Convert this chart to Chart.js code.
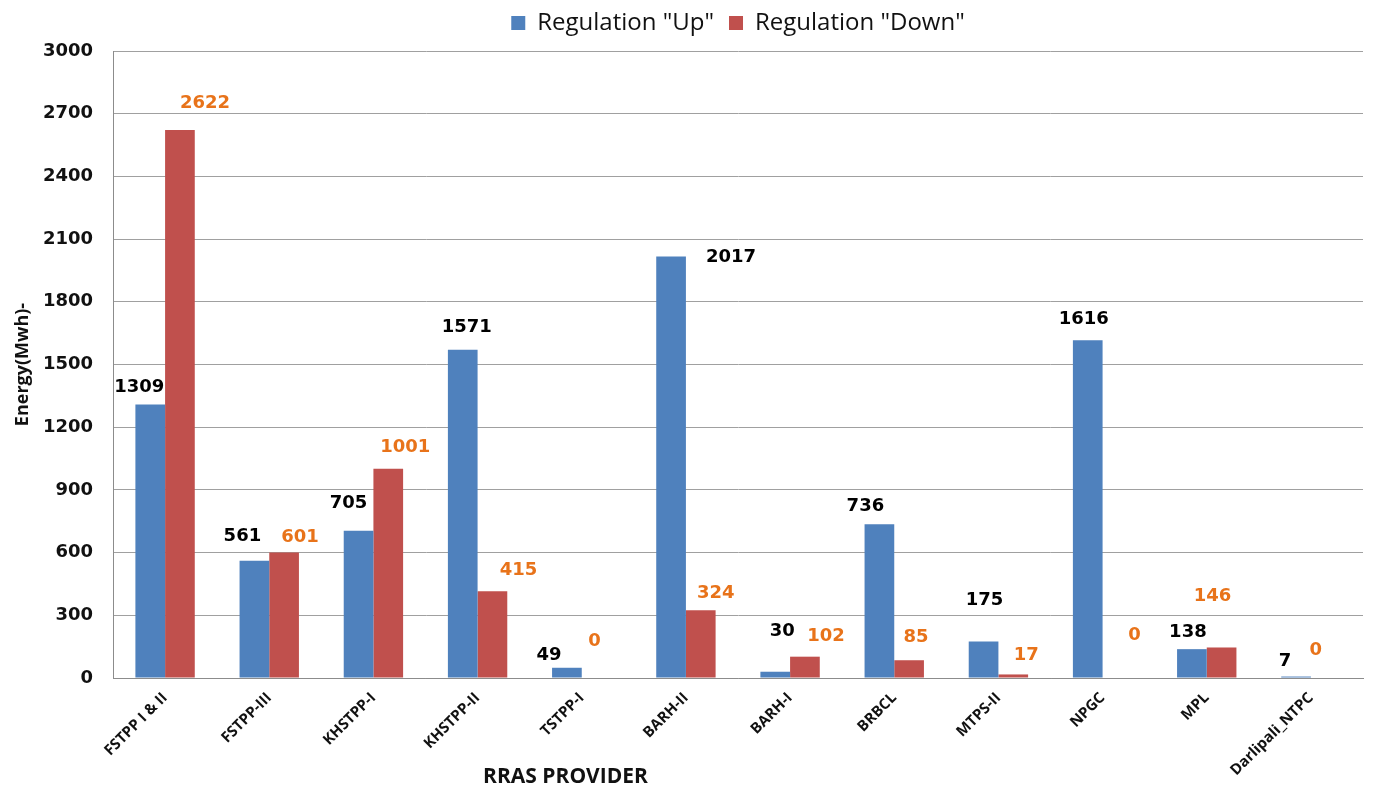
<!DOCTYPE html>
<html>
<head>
<meta charset="utf-8">
<script src="https://cdn.jsdelivr.net/npm/chart.js@4.4.0/dist/chart.umd.min.js"></script>
<style>
  html, body { margin: 0; padding: 0; background: #fff; }
  #wrap { width: 1373px; height: 794px; }
</style>
</head>
<body>
<div id="wrap"><canvas id="rras_chart"></canvas></div>
<script>
const providers = ['FSTPP I & II', 'FSTPP-III', 'KHSTPP-I', 'KHSTPP-II', 'TSTPP-I', 'BARH-II',
    'BARH-I', 'BRBCL', 'MTPS-II', 'NPGC', 'MPL', 'Darlipali_NTPC']
const regulation_up = [1309, 561, 705, 1571, 49, 2017, 30, 736, 175, 1616, 138, 7]
const regulation_down = [2622, 601, 1001, 415, 0, 324, 102, 85, 17, 0, 146, 0]
const y_ticks = [0, 300, 600, 900, 1200, 1500, 1800, 2100, 2400, 2700, 3000]

// label nudges (px) from the top of each bar, as placed in the original
const nudge_up = [[-11,-17],[-12,-24],[-10,-27],[4,-22],[-18,-12],[60,1],[7,-40],[-14,-18],[1,-41],[-4,-21],[-4,-17],[-11,-15]]
const nudge_down = [[25,-27],[16,-15],[17,-21],[26,-21],[-2,-37],[15,-17],[21,-20],[7,-23],[13,-19],[17,-43],[-9,-51],[-10,-28]]

const value_labels = {
    id: 'value_labels',
    afterDatasetsDraw(chart) {
        const ctx = chart.ctx
        ctx.save()
        ctx.font = 'bold 18px "DejaVu Sans"'
        ctx.textAlign = 'center'
        ctx.textBaseline = 'middle'
        chart.data.datasets.forEach((ds, di) => {
            const meta = chart.getDatasetMeta(di)
            const nudges = di === 0 ? nudge_up : nudge_down
            ctx.fillStyle = di === 0 ? '#000000' : '#E8731A'
            meta.data.forEach((bar, i) => {
                ctx.fillText(ds.data[i], bar.x + nudges[i][0], bar.y + nudges[i][1])
            })
        })
        ctx.restore()
    }
}

// legend sits centred over the plot area, a bit higher than chart.js puts it
const legend_shift = {
    id: 'legend_shift',
    afterLayout(chart) {
        const lg = chart.legend
        const area = chart.chartArea
        const dx = (area.left + area.right) / 2 - (lg.left + lg.right) / 2
        lg.left += dx
        lg.right += dx
        lg.top -= 6
        lg.bottom -= 6
        lg.adjustHitBoxes && lg.adjustHitBoxes()
    }
}

const x_title = {
    id: 'x_title',
    afterDraw(chart) {
        const ctx = chart.ctx
        const area = chart.chartArea
        ctx.save()
        ctx.font = 'bold 21px "Open Sans"'
        ctx.fillStyle = '#111111'
        ctx.textAlign = 'center'
        ctx.textBaseline = 'middle'
        ctx.fillText('RRAS PROVIDER', area.left + (area.right - area.left) * 0.362, 777)
        ctx.restore()
    }
}

const config = {
    type: 'bar',
    data: {
        labels: providers,
        datasets: [
            {
                label: 'Regulation "Up"',
                data: regulation_up,
                backgroundColor: '#4F81BD',
                categoryPercentage: 0.57,
                barPercentage: 1.0,
            },
            {
                label: 'Regulation "Down"',
                data: regulation_down,
                backgroundColor: '#C0504D',
                categoryPercentage: 0.57,
                barPercentage: 1.0,
            }
        ]
    },
    options: {
        responsive: true,
        maintainAspectRatio: false,
        animation: false,
        layout: { padding: { top: 2, right: 10, left: 4, bottom: 0 } },
        scales: {
            y: {
                min: 0,
                max: 3000,
                afterBuildTicks: (scale) => { scale.ticks = y_ticks.map(v => ({ value: v })) },
                afterFit: (scale) => { scale.width = 109 },
                ticks: {
                    color: '#111111',
                    font: { family: 'DejaVu Sans', size: 18, weight: 'bold' },
                    padding: 20,
                    callback: (v) => String(v),
                },
                grid: { color: '#a0a0a0', lineWidth: 1, drawTicks: false },
                border: { color: '#8c8c8c' },
                title: {
                    display: true,
                    text: 'Energy(Mwh)-',
                    color: '#111111',
                    font: { family: 'Open Sans', size: 18, weight: 'bold' },
                    padding: { top: 8, bottom: 0 },
                }
            },
            x: {
                afterFit: (scale) => { scale.height = 116 },
                ticks: {
                    color: '#111111',
                    font: { family: 'Open Sans', size: 15, weight: 'bold' },
                    maxRotation: 45,
                    minRotation: 45,
                    autoSkip: false,
                },
                grid: { display: false },
                border: { color: '#8c8c8c' },
            }
        },
        plugins: {
            legend: {
                position: 'top',
                labels: {
                    color: '#111111',
                    font: { family: 'Open Sans', size: 24 },
                    boxWidth: 14,
                    boxHeight: 14,
                    padding: 15,
                }
            },
            tooltip: { enabled: false }
        }
    },
    plugins: [value_labels, legend_shift, x_title]
}

new Chart(document.getElementById('rras_chart'), config)
</script>
</body>
</html>
